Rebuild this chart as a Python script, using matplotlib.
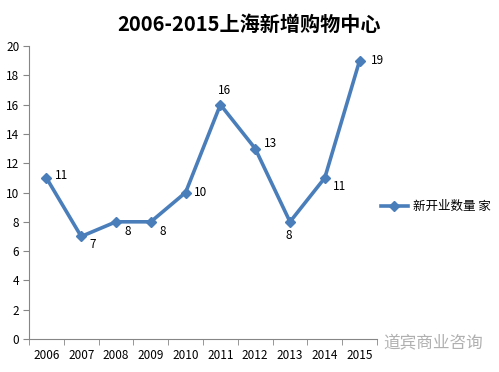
import matplotlib
matplotlib.use("Agg")
import matplotlib.pyplot as plt
from matplotlib.lines import Line2D

plt.rcParams['font.family'] = ['Noto Sans CJK SC', 'DejaVu Sans']

years = ['2006', '2007', '2008', '2009', '2010', '2011', '2012', '2013', '2014', '2015']
values = [11, 7, 8, 8, 10, 16, 13, 8, 11, 19]
title = '2006-2015上海新增购物中心'
series_name = '新开业数量 家'
watermark = '道宾商业咨询'

color = '#4a7ebb'
fig = plt.figure(figsize=(4.99, 3.72), dpi=100)
ax = fig.add_axes([0.0581, 0.0887, 0.6974, 0.7876])
x = list(range(len(years)))
ax.plot(x, values, color=color, lw=2.6, marker='D', ms=5.5, mfc=color, mec=color)
ax.set_xlim(-0.5, len(years) - 0.5)
ax.set_ylim(0, 20)
ax.set_yticks(range(0, 21, 2))
ax.set_xticks(x)
ax.set_xticklabels(years)
ax.set_xticks([i - 0.5 for i in range(len(years) + 1)], minor=True)
ax.tick_params(axis='x', which='major', length=0, labelsize=8.5, pad=7)
ax.tick_params(axis='x', which='minor', length=4, color='#868686')
ax.tick_params(axis='y', length=4, color='#868686', labelsize=8.5, pad=3)
for s in ['top', 'right']:
    ax.spines[s].set_visible(False)
for s in ['left', 'bottom']:
    ax.spines[s].set_color('#868686')

offsets = [(6, 2), (6, -6), (6, -7), (6, -7), (6, 0), (-2, 10), (6, 4), (-3, -10), (6, -6), (8, 0)]
for xi, v, (dx, dy) in zip(x, values, offsets):
    ax.annotate(str(v), (xi, v), xytext=(dx, dy), textcoords='offset points',
                fontsize=8.5, ha='left', va='center')

handle = Line2D([0], [0], color=color, lw=2.6, marker='D', ms=5.5)
fig.legend([handle], [series_name], loc='center left', bbox_to_anchor=(0.74, 0.445),
           frameon=False, fontsize=9, handlelength=2.2, handletextpad=0.4)

fig.text(0.5, 0.935, title, ha='center', va='center', fontsize=14.5, fontweight='bold')
fig.text(0.968, 0.075, watermark, ha='right', va='center', fontsize=12, color='#b0b0b0')

fig.savefig('out.png', dpi=100)
